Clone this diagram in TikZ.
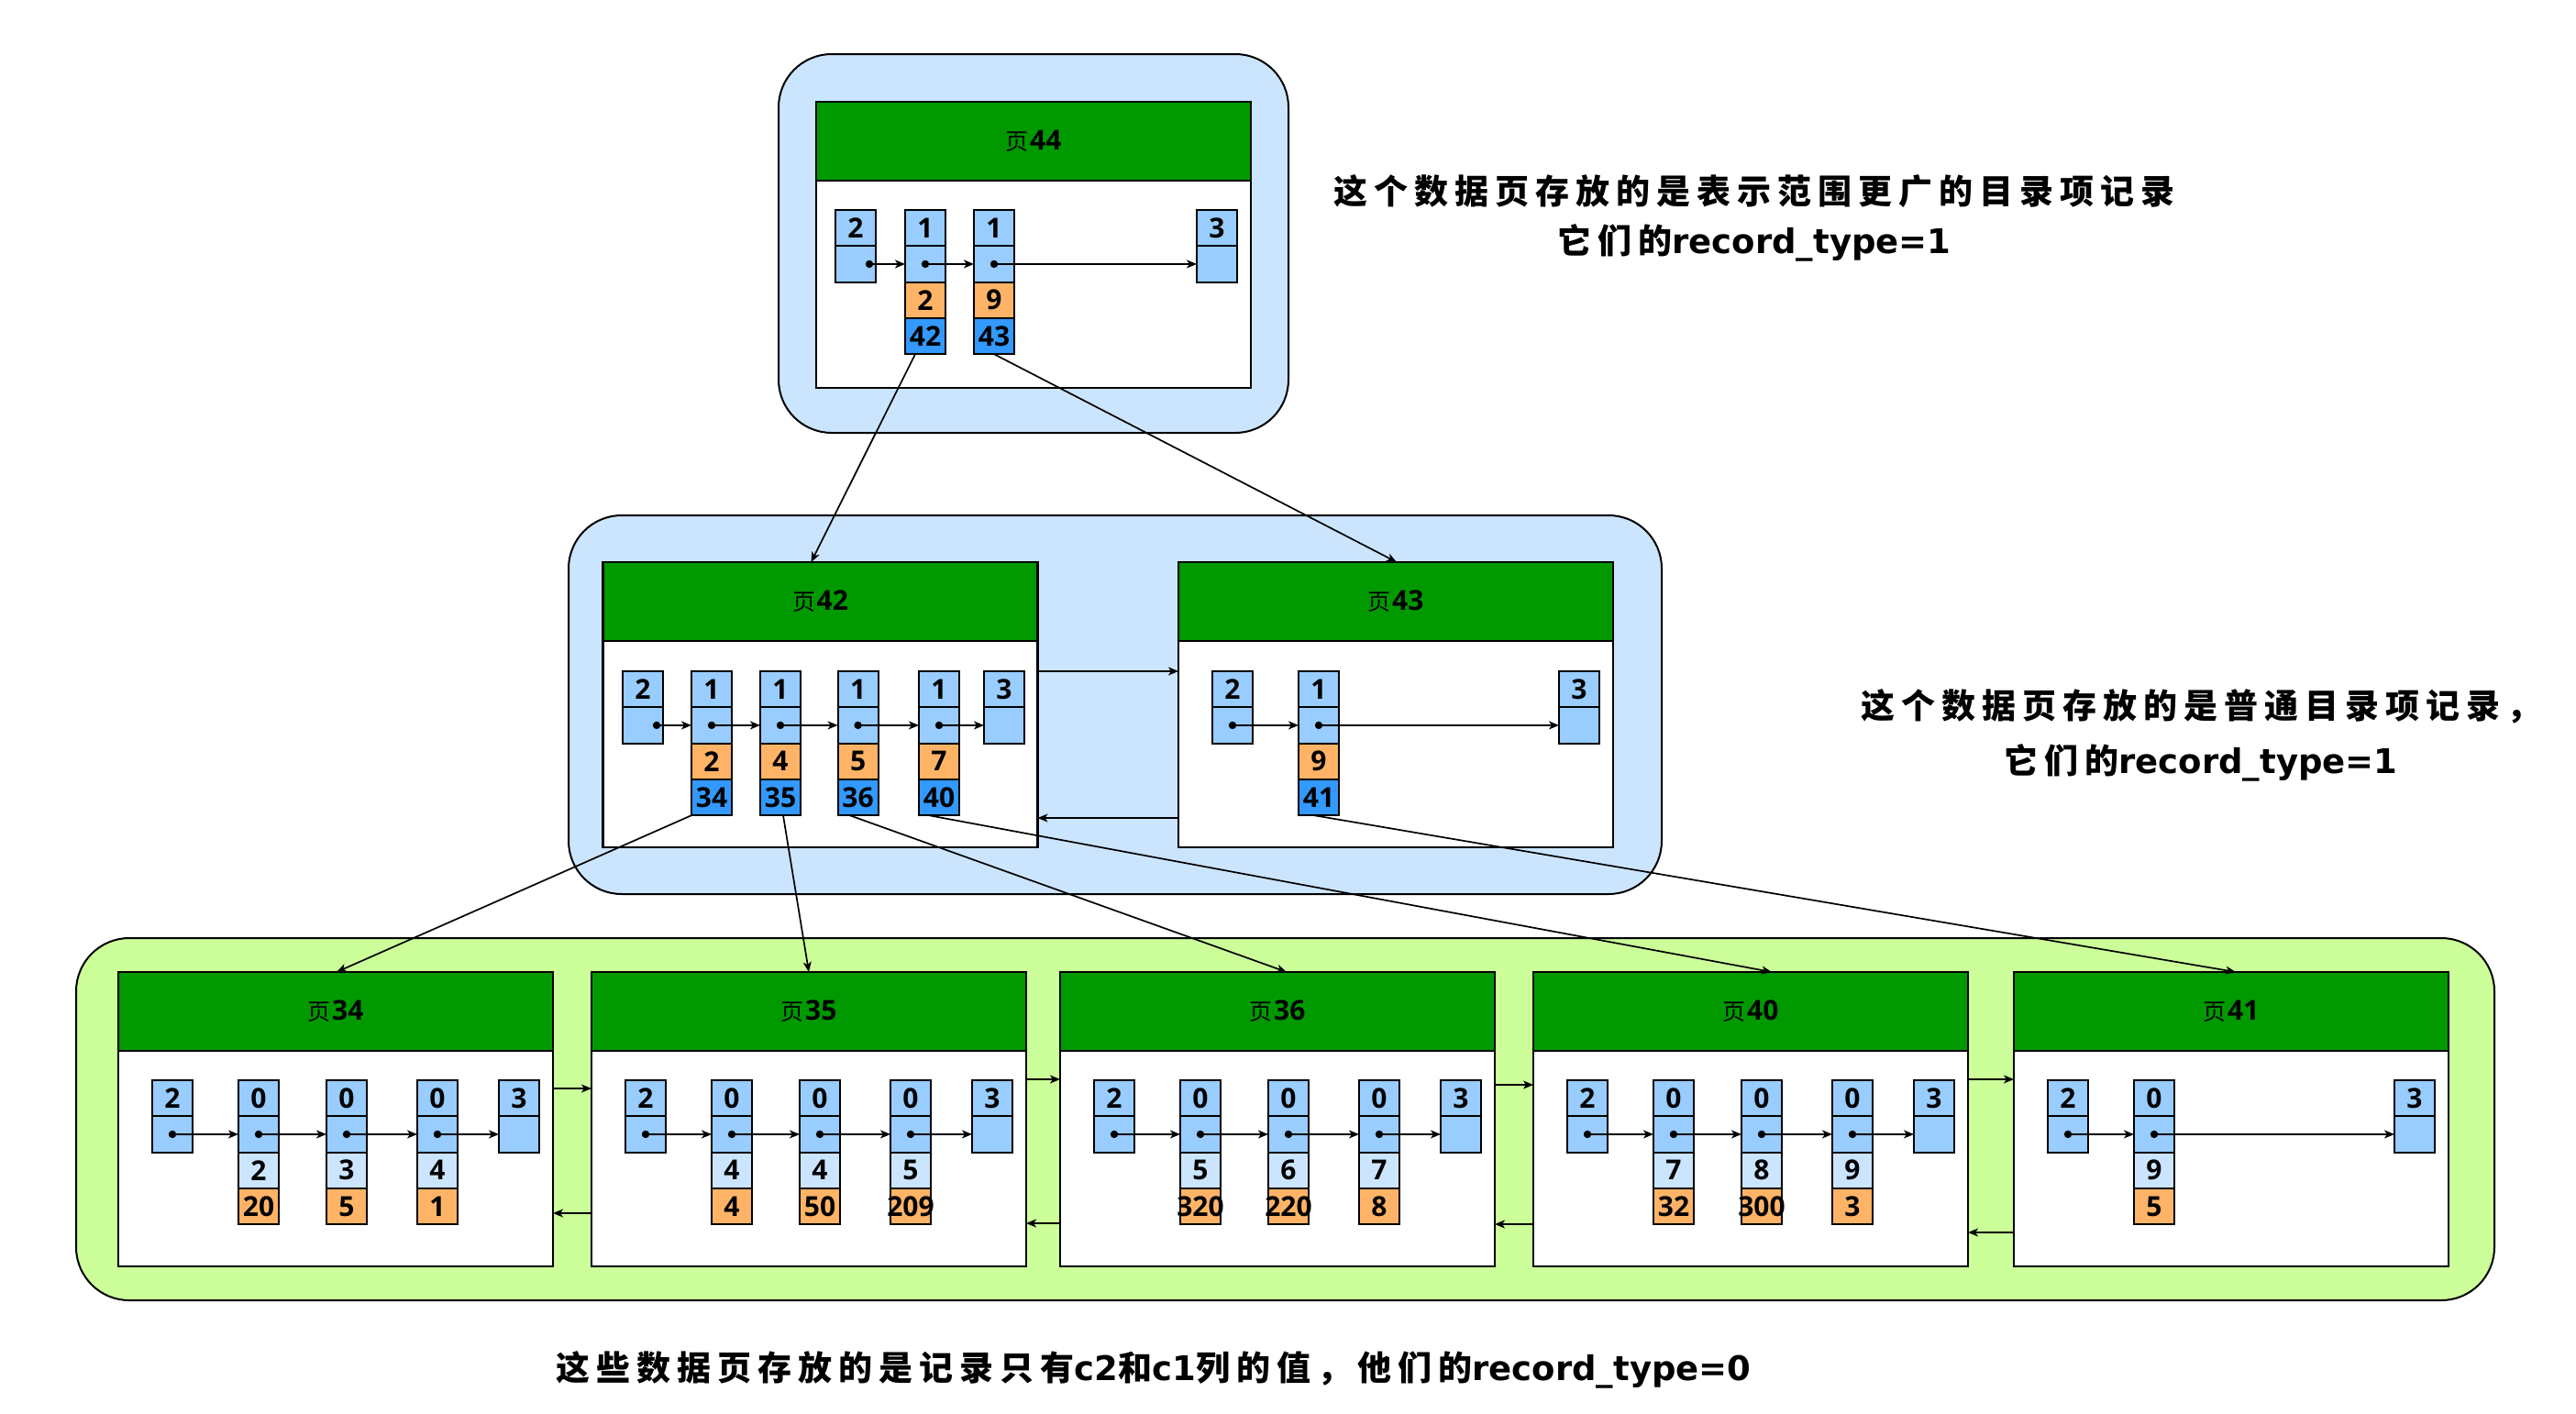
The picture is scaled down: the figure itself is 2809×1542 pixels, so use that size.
\documentclass[tikz,border=0pt]{standalone}
\usepackage{fontspec}
\setmainfont{Open Sans}
\newfontfamily\cjk{Noto Sans CJK SC}
\newfontfamily\cjkann[LetterSpace=19]{Noto Sans CJK SC}
\newfontfamily\latann{DejaVu Sans}
\usetikzlibrary{arrows.meta}
\definecolor{cbg}{HTML}{CCE5FF}
\definecolor{gbg}{HTML}{CCFF99}
\definecolor{hdr}{HTML}{009900}
\definecolor{cA}{HTML}{99CCFF}
\definecolor{cO}{HTML}{FFB366}
\definecolor{cB}{HTML}{3399FF}
\newcommand\cfnt{\fontsize{30}{30}\selectfont\bfseries}
\newcommand\pglabel[1]{{\cjk\fontsize{25}{25}\selectfont 页}\,{\cfnt #1}}
\newcommand\lat[1]{{\latann\bfseries #1}}
\tikzset{
  cont/.style={draw=black, line width=2pt, rounded corners=58pt, anchor=north west, inner sep=0pt, outer sep=0pt},
  hdrbox/.style={draw, fill=hdr, line width=2.4pt, minimum width=474pt, minimum height=86pt, anchor=north west, inner sep=0pt, outer sep=0pt},
  bodybox/.style={draw, fill=white, line width=2.4pt, minimum width=474pt, anchor=north, inner sep=0pt, outer sep=0pt},
  cell/.style={draw, line width=2pt, minimum width=44pt, minimum height=39.3pt, inner sep=0pt, outer sep=0pt, font=\cfnt},
  parr/.style={-{Stealth[length=11pt,width=9pt,inset=3pt]}, line width=1.7pt},
  ann/.style={align=center, inner sep=0pt},
}
% infimum record: name, x, y, dot shift
\newcommand\infrec[4]{%
  \node[cell, fill=cA, anchor=north west] (#1t) at (#2,#3) {\makebox[0pt]{2}};
  \node[cell, fill=cA, anchor=north] (#1p) at (#1t.south) {};
  \coordinate (#1d) at ([xshift=#4]#1p.center);
  \fill (#1d) circle (4.2pt);
}
% supremum record: name, x, y
\newcommand\suprec[3]{%
  \node[cell, fill=cA, anchor=north west] (#1t) at (#2,#3) {\makebox[0pt]{3}};
  \node[cell, fill=cA, anchor=north] (#1p) at (#1t.south) {};
}
% index record: name, x, y, key, page
\newcommand\idxrec[5]{%
  \node[cell, fill=cA, anchor=north west] (#1t) at (#2,#3) {\makebox[0pt]{1}};
  \node[cell, fill=cA, anchor=north] (#1p) at (#1t.south) {};
  \node[cell, fill=cO, anchor=north] (#1k) at (#1p.south) {\makebox[0pt]{#4}};
  \node[cell, fill=cB, anchor=north] (#1v) at (#1k.south) {\makebox[0pt]{#5}};
  \coordinate (#1d) at (#1p.center);
  \fill (#1d) circle (4.2pt);
}
% leaf record: name, x, y, c2, c1
\newcommand\leafrec[5]{%
  \node[cell, fill=cA, anchor=north west] (#1t) at (#2,#3) {\makebox[0pt]{0}};
  \node[cell, fill=cA, anchor=north] (#1p) at (#1t.south) {};
  \node[cell, fill=cbg, anchor=north] (#1k) at (#1p.south) {\makebox[0pt]{#4}};
  \node[cell, fill=cO, anchor=north] (#1v) at (#1k.south) {\makebox[0pt]{#5}};
  \coordinate (#1d) at (#1p.center);
  \fill (#1d) circle (4.2pt);
}
% page: name, x, y, number, body height
\newcommand\page[5]{%
  \node[hdrbox] (#1h) at (#2,#3) {\pglabel{#4}};
  \node[bodybox, minimum height=#5] (#1b) at (#1h.south) {};
}
% leaf page: name, left x, number, c2/c1 pairs (three records)
\newcommand\leafpage[9]{%
  \page{#1}{#2}{1060}{#3}{235pt}
  \infrec{#1i}{#2+37}{1178}{0pt}
  \leafrec{#1r1}{#2+131}{1178}{#4}{#5}
  \leafrec{#1r2}{#2+227}{1178}{#6}{#7}
  \leafrec{#1r3}{#2+326}{1178}{#8}{#9}
  \suprec{#1s}{#2+415}{1178}
  \draw[parr] (#1id) -- (#1r1p.west);
  \draw[parr] (#1r1d) -- (#1r2p.west);
  \draw[parr] (#1r2d) -- (#1r3p.west);
  \draw[parr] (#1r3d) -- (#1sp.west);
}
\begin{document}
\begin{tikzpicture}[x=1pt, y=-1pt]
\useasboundingbox (0,0) rectangle (2809,1542);
\fill[white] (0,0) rectangle (2809,1542);

% containers
\node[cont, fill=cbg, minimum width=556pt, minimum height=413pt] (c44) at (849,59) {};
\node[cont, fill=cbg, minimum width=1192pt, minimum height=413pt] (c42) at (620,562) {};
\node[cont, fill=gbg, minimum width=2637pt, minimum height=395pt] (cleaf) at (83,1023) {};

% page 44
\page{p44}{890}{111}{44}{226pt}
\infrec{p44i}{911}{229}{15pt}
\idxrec{p44r1}{987}{229}{2}{42}
\idxrec{p44r2}{1062}{229}{9}{43}
\suprec{p44s}{1305}{229}
\draw[parr] (p44id) -- (p44r1p.west);
\draw[parr] (p44r1d) -- (p44r2p.west);
\draw[parr] (p44r2d) -- (p44sp.west);

% page 42
\page{p42}{657.5}{613}{42}{225pt}
\infrec{p42i}{679}{732}{15pt}
\idxrec{p42r1}{754}{732}{2}{34}
\idxrec{p42r2}{829}{732}{4}{35}
\idxrec{p42r3}{913.6}{732}{5}{36}
\idxrec{p42r4}{1002}{732}{7}{40}
\suprec{p42s}{1073}{732}
\draw[parr] (p42id) -- (p42r1p.west);
\draw[parr] (p42r1d) -- (p42r2p.west);
\draw[parr] (p42r2d) -- (p42r3p.west);
\draw[parr] (p42r3d) -- (p42r4p.west);
\draw[parr] (p42r4d) -- (p42sp.west);

% page 43
\page{p43}{1285}{613}{43}{225pt}
\infrec{p43i}{1322}{732}{0pt}
\idxrec{p43r1}{1416}{732}{9}{41}
\suprec{p43s}{1700}{732}
\draw[parr] (p43id) -- (p43r1p.west);
\draw[parr] (p43r1d) -- (p43sp.west);

% leaf pages
\leafpage{p34}{129}{34}{2}{20}{3}{5}{4}{1}
\leafpage{p35}{645}{35}{4}{4}{4}{50}{5}{209}
\leafpage{p36}{1156}{36}{5}{320}{6}{220}{7}{8}
\leafpage{p40}{1672}{40}{7}{32}{8}{300}{9}{3}
% page 41
\page{p41}{2196}{1060}{41}{235pt}
\infrec{p41i}{2233}{1178}{0pt}
\leafrec{p41r1}{2327}{1178}{9}{5}
\suprec{p41s}{2611}{1178}
\draw[parr] (p41id) -- (p41r1p.west);
\draw[parr] (p41r1d) -- (p41sp.west);

% sibling links
\coordinate (yA) at (0,732);
\coordinate (yB) at (0,892);
\draw[parr] (p42b.east |- yA) -- (p43b.west |- yA);
\draw[parr] (p43b.west |- yB) -- (p42b.east |- yB);

\coordinate (f1) at (0,1187); \coordinate (b1) at (0,1323);
\coordinate (f2) at (0,1177); \coordinate (b2) at (0,1334);
\coordinate (f3) at (0,1183); \coordinate (b3) at (0,1335);
\coordinate (f4) at (0,1177); \coordinate (b4) at (0,1344);
\draw[parr] (p34b.east |- f1) -- (p35b.west |- f1);
\draw[parr] (p35b.west |- b1) -- (p34b.east |- b1);
\draw[parr] (p35b.east |- f2) -- (p36b.west |- f2);
\draw[parr] (p36b.west |- b2) -- (p35b.east |- b2);
\draw[parr] (p36b.east |- f3) -- (p40b.west |- f3);
\draw[parr] (p40b.west |- b3) -- (p36b.east |- b3);
\draw[parr] (p40b.east |- f4) -- (p41b.west |- f4);
\draw[parr] (p41b.west |- b4) -- (p40b.east |- b4);

% child pointers
\draw[parr] ([xshift=11pt]p44r1v.south west) -- ([xshift=227pt]p42h.north west);
\draw[parr] (p44r2v.south) -- ([xshift=238pt]p43h.north west);
\draw[parr] (p42r1v.south west) -- ([xshift=238pt]p34h.north west);
\draw[parr] ([xshift=25pt]p42r2v.south west) -- ([xshift=237pt]p35h.north west);
\draw[parr] ([xshift=13pt]p42r3v.south west) -- ([xshift=247pt]p36h.north west);
\draw[parr] ([xshift=11pt]p42r4v.south west) -- ([xshift=260pt]p40h.north west);
\draw[parr] ([xshift=17pt]p43r1v.south west) -- ([xshift=242pt]p41h.north west);

% annotations
\node[ann, font=\cjkann\bfseries\fontsize{37}{54}\selectfont] (n1) at (1913,238)
  {这个数据页存放的是表示范围更广的目录项记录\\它们的\lat{record\_type=1}};
\node[ann, font=\cjkann\bfseries\fontsize{37}{60}\selectfont] (n2) at (2400,802)
  {这个数据页存放的是普通目录项记录，\\它们的\lat{record\_type=1}};
\node[ann, font=\cjkann\bfseries\fontsize{37}{54}\selectfont] (n3) at (1258,1494)
  {这些数据页存放的是记录只有\lat{c2}和\lat{c1}列的值，他们的\lat{record\_type=0}};
\end{tikzpicture}
\end{document}
